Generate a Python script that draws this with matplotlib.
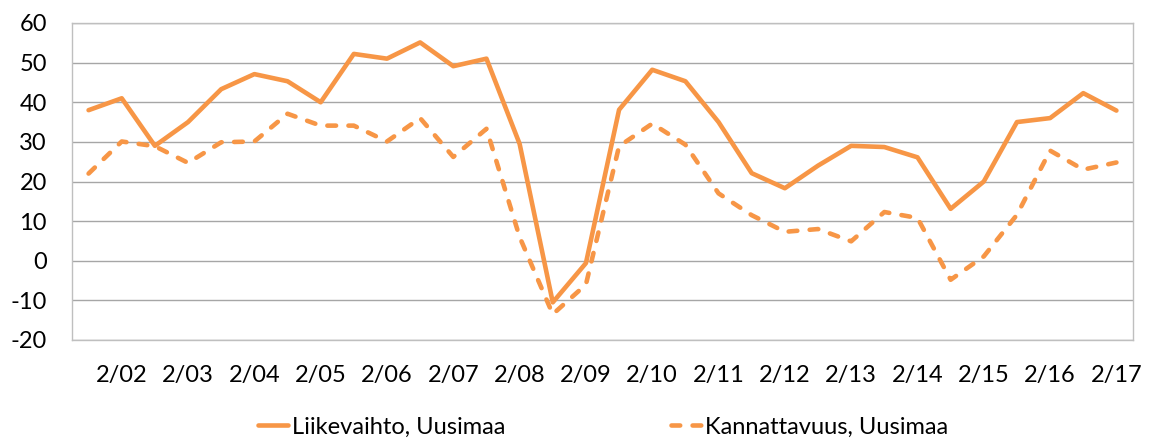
import matplotlib
matplotlib.use("Agg")
import matplotlib.pyplot as plt

plt.rcParams['font.family'] = ['Lato', 'DejaVu Sans']

# 32 half-year periods, 1/02 ... 2/17
periods = []
for yr in range(2, 18):
    periods += [f"1/{yr:02d}", f"2/{yr:02d}"]

liikevaihto = [38, 41, 29, 35, 43.3, 47.1, 45.3, 40, 52.2, 51, 55.1, 49.1, 51, 29.5,
               -10.5, -0.6, 38.1, 48.2, 45.3, 35, 22.1, 18.3, 24, 29, 28.7, 26.1,
               13.1, 20, 35, 36, 42.3, 37.9]
kannattavuus = [22, 30.1, 28.9, 24.7, 29.9, 30.1, 37.1, 34.1, 34.1, 30.1, 36, 26.2,
                33.3, 6, -13.5, -6, 28.9, 34.6, 29.3, 17, 11.5, 7.3, 8, 4.9, 12.3,
                10.8, -4.8, 1.1, 11.6, 27.8, 23, 24.8]
series_names = ["Liikevaihto, Uusimaa", "Kannattavuus, Uusimaa"]
yticks = list(range(-20, 61, 10))

color = "#F79646"

fig = plt.figure(figsize=(11.55, 4.38), dpi=100)
ax = fig.add_axes([72/1155, 1-340/438, (1133-72)/1155, (340-23)/438])

x = list(range(len(periods)))
ax.plot(x, liikevaihto, color=color, lw=3.3, solid_joinstyle='round',
        solid_capstyle='round', label=series_names[0])
ax.plot(x, kannattavuus, color=color, lw=3.3, linestyle=(0, (1.9, 2.7)),
        dash_capstyle='round', dash_joinstyle='round', label=series_names[1])

ax.set_xlim(-0.5, len(periods) - 0.5)
ax.set_ylim(-20, 60)
ax.set_yticks(yticks)
ax.set_yticklabels([str(v) for v in yticks])
ax.set_xticks(x[1::2])
ax.set_xticklabels(periods[1::2])
ax.tick_params(axis='both', length=0, labelsize=17, colors='black')
ax.tick_params(axis='x', pad=18)
ax.tick_params(axis='y', pad=18)
ax.yaxis.grid(True, color='#A6A6A6', lw=1.0)
ax.set_axisbelow(True)
for s in ax.spines.values():
    s.set_color('#BFBFBF')
    s.set_linewidth(1.0)

fig.legend(loc='center', bbox_to_anchor=(0.522, 1-427/438), ncol=2, frameon=False,
           fontsize=17, handlelength=1.3, handletextpad=0.15, columnspacing=7.0)

fig.savefig("out.png", dpi=100)
